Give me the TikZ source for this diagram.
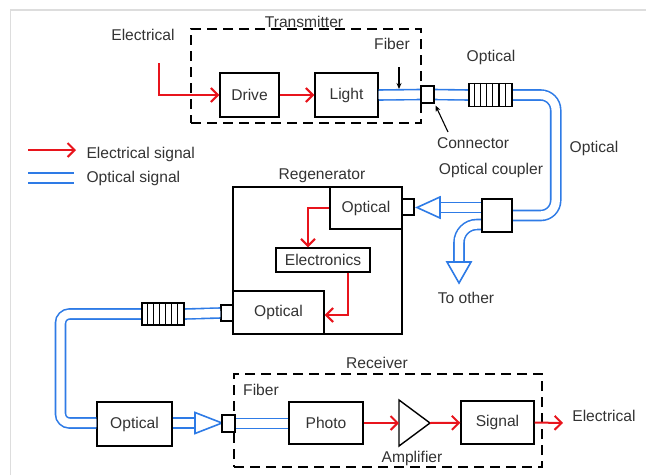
\documentclass[tikz,border=0pt]{standalone}
\usepackage{fontspec}
\setmainfont{Liberation Sans}
\usepackage{tikz}
\usetikzlibrary{positioning,arrows.meta,calc}
\definecolor{SigRed}{HTML}{E8141C}
\definecolor{FibBlue}{HTML}{2E7BE6}
\definecolor{TextGray}{HTML}{333333}
\definecolor{FrameGray}{HTML}{DDDDDD}

\begin{document}
\begin{tikzpicture}[x=1pt,y=-1pt,
    every node/.style={font=\fontsize{15.6}{18}\selectfont, text=TextGray},
    unit/.style={draw=black, line width=1.4pt, fill=white, inner sep=0pt},
    conn/.style={draw=black, line width=1.4pt, fill=white, inner sep=0pt,
                 minimum width=13pt, minimum height=17pt},
    grating/.style={draw=black, line width=1.4pt, fill=white, inner sep=0pt,
                    minimum width=43pt, minimum height=23pt},
    frame/.style={draw=black, line width=1.4pt, dash pattern=on 10pt off 6pt,
                  inner sep=0pt},
    elec/.style={-{Straight Barb[length=7pt,width=14pt,line width=2pt]},
                 line width=2pt, SigRed},
    fib/.style={draw=FibBlue, line width=1.6pt, double=white, double distance=8.4pt},
    head/.style={draw=FibBlue, line width=1.6pt, fill=white, line join=miter},
    tag/.style={-{Stealth[length=6pt,width=5pt]}, line width=1.1pt, black}]

  \useasboundingbox (0,0) rectangle (646,475);
  \draw[FrameGray, line width=1.5pt] (10.5,475) -- (10.5,10) -- (646,10);

  % transmitter
  \node[frame, minimum width=230, minimum height=94] (tx) at (306,76) {};
  \node[anchor=base] (txlab) at (304,27) {Transmitter};
  \node[unit, minimum width=59, minimum height=44] (drive) at (249.5,95) {Drive};
  \node[unit, minimum width=63, minimum height=44] (light) at (346.5,95) {Light};
  \node (ein lab) at (143,35) {Electrical};
  \coordinate (ein) at (159,63);
  \draw[elec] (ein) |- (drive.west);
  \draw[elec] (drive) -- (light);
  \node (fiblab) at (392,44) {Fiber};
  \coordinate (fibtop) at (399,67);
  \coordinate (fibtip) at (399,89);
  \draw[tag] (fibtop) -- (fibtip);

  % line to the coupler
  \node[conn] (txconn) at (427.5,94.5) {};
  \node[grating] (txgrat) at (490.5,95) {};
  \node[unit, minimum width=30, minimum height=33] (coupler) at (497,215.5) {};
  \draw[fib] (light.east) -- (txconn.west);
  \draw[fib] (txconn.east) -- (txgrat.west);
  \draw[fib, rounded corners=15] (txgrat.east) -- ++(43,0) |- (coupler.east);
  \node[grating] at (490.5,95) {};
  \foreach \i in {1,...,6}
    \draw[line width=1.1pt] ([xshift=\i*6.14pt]txgrat.north west) -- ([xshift=\i*6.14pt]txgrat.south west);
  \node[conn] at (427.5,94.5) {};
  \node (gratlab) at (491,57) {Optical};
  \node (conlab) at (473,143) {Connector};
  \coordinate (contail) at (448,132);
  \draw[tag, shorten >=2pt] (contail) -- (txconn.south east);
  \node (cplab) at (491,170) {Optical coupler};
  \node (looplab) at (594,148) {Optical};

  % legend
  \node[anchor=west] (elab) at (83,154) {Electrical signal};
  \node[anchor=west] (olab) at (83,178) {Optical signal};
  \draw[elec] ([xshift=-55pt,yshift=4pt]elab.west) -- ([xshift=-7pt,yshift=4pt]elab.west);
  \draw[fib] ([xshift=-55pt]olab.west) -- ([xshift=-9pt]olab.west);

  % regenerator
  \node[unit, minimum width=169, minimum height=147] (regen) at (317.5,260.5) {};
  \node (rglab) at (322,176) {Regenerator};
  \node[unit, minimum width=72, minimum height=42] (rxopt) at (366,208) {Optical};
  \node[unit, minimum width=94, minimum height=24] (elecs) at (323,260) {Electronics};
  \node[unit, minimum width=91, minimum height=43] (txopt) at (278.5,312.5) {Optical};
  \node[conn, minimum width=12, minimum height=16] (rgconn) at (408,207) {};
  \node[conn, minimum width=12, minimum height=16] (rgconn2) at (227,313) {};
  \draw[elec] (rxopt.west) -| ($(elecs.north)+(-15,0)$);
  \draw[elec] ($(elecs.south)+(25,0)$) |- ($(txopt.east)+(0,2.5)$);

  % coupler outputs
  \draw[fib] ($(coupler.west)+(0,-8)$) -- (440,207.5);
  \draw[head] (440,197) -- (417,207.5) -- (440,218) -- cycle;
  \draw[fib, rounded corners=18] ($(coupler.west)+(0,9)$) -| (459,262);
  \draw[head] (447,262) -- (471,262) -- (459,283) -- cycle;
  \node[unit, minimum width=30, minimum height=33] at (497,215.5) {};
  \node (otherlab) at (466,298) {To other};

  % line to the receiver
  \node[grating, minimum width=42, minimum height=22] (lgrat) at (163,314) {};
  \node[unit, minimum width=75, minimum height=44] (lineopt) at (134.5,424) {Optical};
  \draw[fib] (rgconn2.west) -- (lgrat.east);
  \draw[fib, rounded corners=9] (lgrat.west) -- (60.5,314) |- ($(lineopt.west)+(0,-1)$);
  \node[grating, minimum width=42, minimum height=22] at (163,314) {};
  \foreach \i in {1,...,6}
    \draw[line width=1.1pt] ([xshift=\i*6pt]lgrat.north west) -- ([xshift=\i*6pt]lgrat.south west);

  % receiver
  \node[frame, minimum width=308, minimum height=93] (rx) at (388,420.5) {};
  \node (rxlab) at (377,363) {Receiver};
  \node (rxfib) at (261,390) {Fiber};
  \node[conn] (rxconn) at (228.5,423.5) {};
  \node[unit, minimum width=74, minimum height=42] (photo) at (326,423) {Photo};
  \node[unit, minimum width=73, minimum height=43] (signal) at (497.5,422.5) {Signal};
  \draw[fib] ($(lineopt.east)+(0,-1)$) -- (195,423);
  \draw[head] (195,412.5) -- (222,423) -- (195,433.5) -- cycle;
  \draw[fib] (rxconn.east) -- ($(photo.west)+(0,0.5)$);
  \node[conn] at (228.5,423.5) {};
  \coordinate (ampin) at (399,423);
  \coordinate (ampout) at (430,423);
  \draw[line width=1.4pt, line join=miter] (399,400) -- (ampout) -- (399,446) -- cycle;
  \node (amplab) at (412,458) {Amplifier};
  \draw[elec] (photo) -- (ampin);
  \draw[elec] (ampout) -- (signal);
  \coordinate (eout) at (563,423);
  \draw[elec] (signal.east) -- (eout);
  \node (eoutlab) at (604,416) {Electrical};
\end{tikzpicture}
\end{document}
